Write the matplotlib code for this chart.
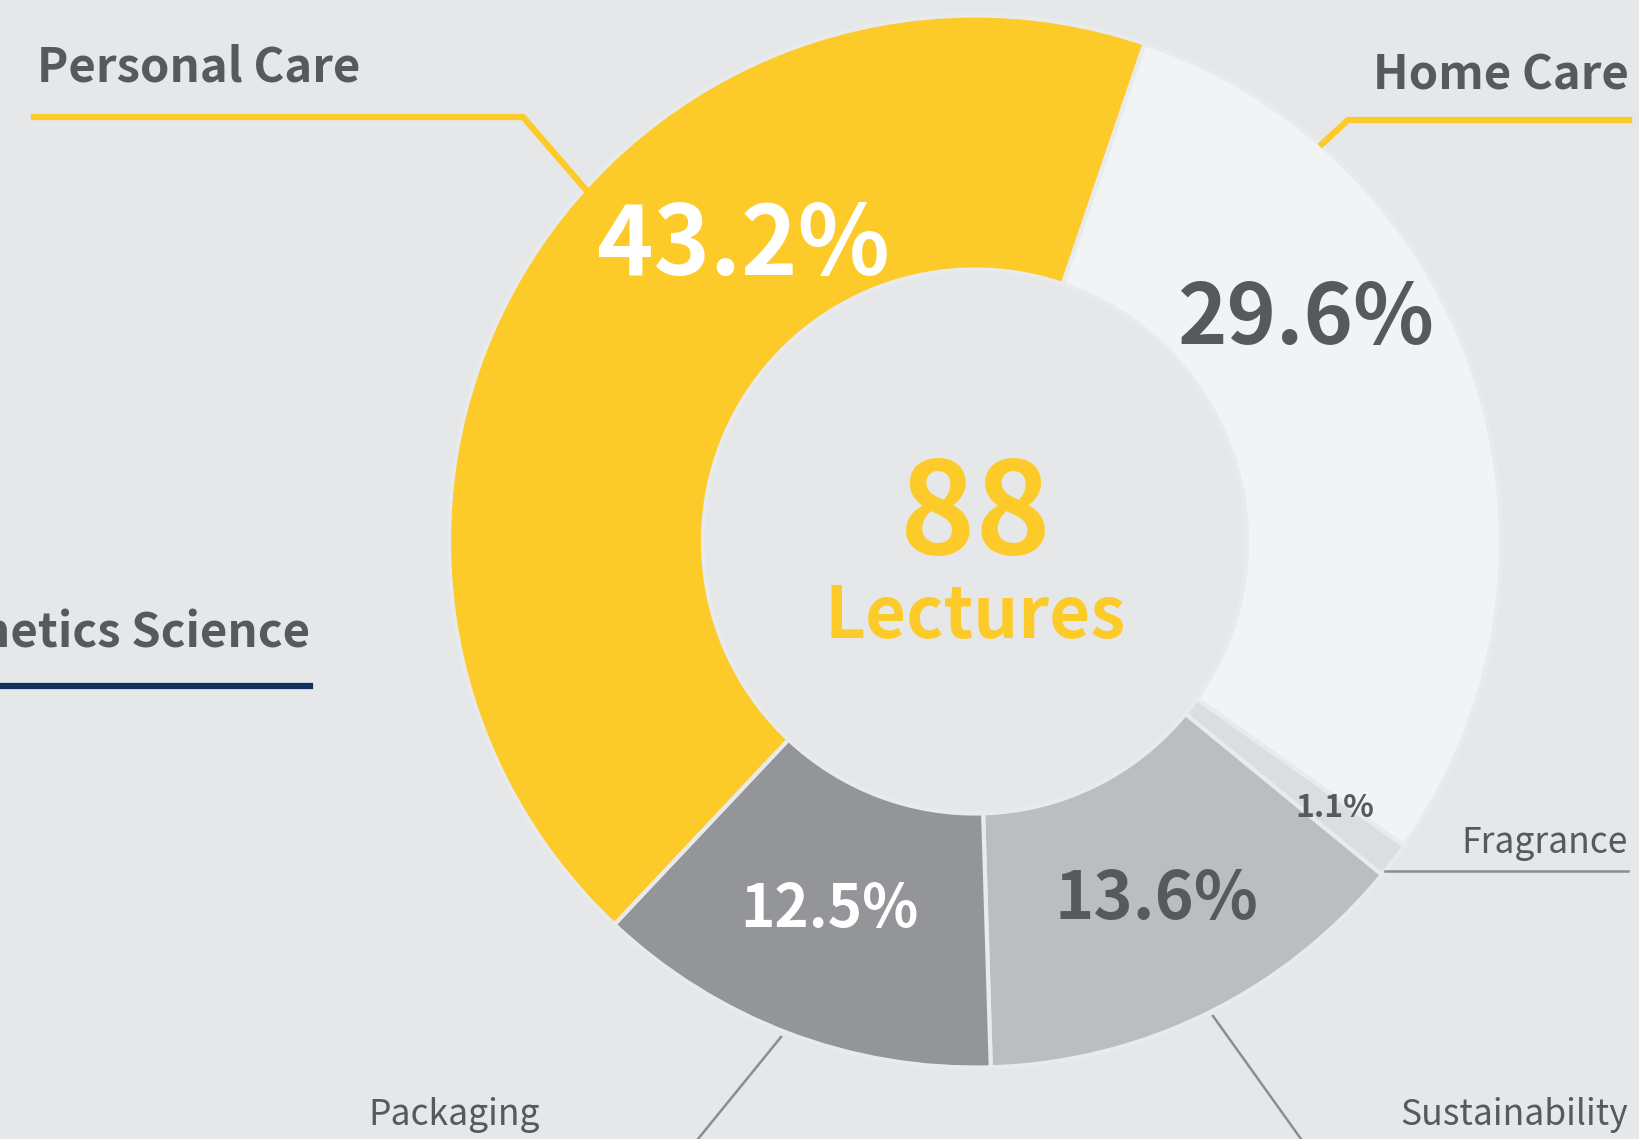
import matplotlib.pyplot as plt

# data
categories = ["Home Care", "Fragrance", "Sustainability", "Packaging", "Personal Care"]
shares = [29.6, 1.1, 13.6, 12.5, 43.2]
total_lectures = 88
colors = ["#F2F3F4", "#DCDDDF", "#BCBDC0", "#939598", "#FDCB29"]
pct_colors = ["#58595B", "#58595B", "#58595B", "#FFFFFF", "#FFFFFF"]

BG = "#E6E7E8"
DARK = "#58595B"
YELLOW = "#FDCB29"
W, H = 1639, 1139
FONT = ["Noto Sans CJK JP", "DejaVu Sans"]

def Y(y):
    # pixel row (from top) -> data y
    return H - y

fig = plt.figure(figsize=(W / 100, H / 100), dpi=100, facecolor=BG)
ax = fig.add_axes([0, 0, 1, 1])
ax.set_facecolor(BG)

cx, cy, R, r = 975, Y(541.5), 526, 272
ax.pie(shares, colors=colors, startangle=71.2, counterclock=False,
       radius=R, center=(cx, cy),
       wedgeprops=dict(width=R - r, edgecolor="#E9EAEB", linewidth=3))
ax.set_xlim(0, W)
ax.set_ylim(0, H)
ax.set_aspect("equal")
ax.axis("off")

# percentage labels (x, baseline, fontsize)
pct_layout = [(1306, 344, 60.5), (1335, 817, 23), (1156, 919, 48), (829, 927, 42), (743, 275, 69)]
for val, col, (x, yb, fs) in zip(shares, pct_colors, pct_layout):
    ax.text(x, Y(yb), f"{val:.1f}%", ha="center", va="baseline", color=col,
            fontsize=fs, fontweight="bold", family=FONT)

# centre
ax.text(cx, Y(554), str(total_lectures), ha="center", va="baseline", color=YELLOW,
        fontsize=92, fontweight="bold", family=FONT)
ax.text(cx, Y(638), "Lectures", ha="center", va="baseline", color=YELLOW,
        fontsize=51, fontweight="bold", family=FONT)

# big category labels with yellow/navy leader lines
ax.text(37, Y(82), "Personal Care", ha="left", va="baseline", color=DARK,
        fontsize=34, fontweight="bold", family=FONT)
ax.plot([34, 523, 587], [Y(117), Y(117), Y(191)], color=YELLOW, lw=4.5, solid_joinstyle="miter")

ax.text(1629, Y(90), "Home Care", ha="right", va="baseline", color=DARK,
        fontsize=34, fontweight="bold", family=FONT)
ax.plot([1322, 1348, 1629], [Y(144), Y(120), Y(120)], color=YELLOW, lw=4.5, solid_joinstyle="miter")

ax.text(310, Y(648), "Cosmetics Science", ha="right", va="baseline", color=DARK,
        fontsize=34, fontweight="bold", family=FONT)
ax.plot([0, 310], [Y(686), Y(686)], color="#14305F", lw=4.5)

# small category labels with gray leader lines
GRAY = "#8C8D8F"
ax.text(1628, Y(853), "Fragrance", ha="right", va="baseline", color=DARK,
        fontsize=25.5, family=FONT)
ax.plot([1385, 1628], [Y(871), Y(871)], color=GRAY, lw=1.8)

ax.text(1628, Y(1125), "Sustainability", ha="right", va="baseline", color=DARK,
        fontsize=25.5, family=FONT)
ax.plot([1213, 1301], [Y(1016), Y(1139)], color=GRAY, lw=1.8)

ax.text(368, Y(1125), "Packaging", ha="left", va="baseline", color=DARK,
        fontsize=25.5, family=FONT)
ax.plot([781, 698], [Y(1037), Y(1139)], color=GRAY, lw=1.8)

fig.savefig("out.png", dpi=100, facecolor=BG)
